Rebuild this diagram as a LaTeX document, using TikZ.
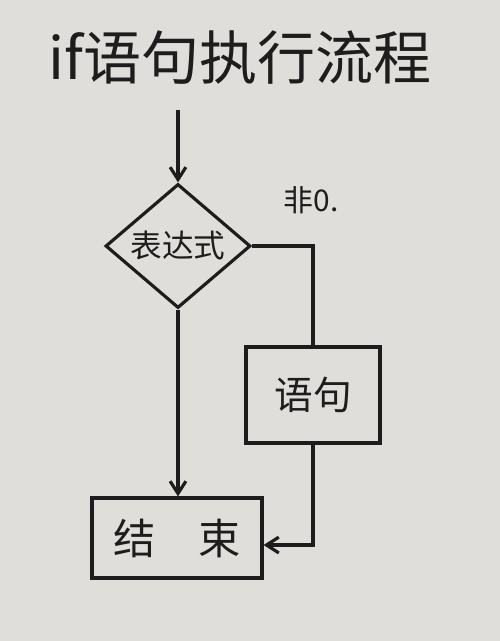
\documentclass[tikz,border=0pt]{standalone}
\usepackage{fontspec}
\newfontfamily\cjk{Noto Sans CJK SC}
\usepackage{tikz}
\usetikzlibrary{shapes.geometric,arrows.meta,positioning,calc}
\definecolor{paper}{RGB}{224,222,218}
\definecolor{ink}{RGB}{30,28,28}

\begin{document}
\begin{tikzpicture}[
			line width = 1.8pt,
			color = ink,
			>={Straight Barb[length=7pt,width=9pt]},
			every node/.style = {font=\cjk},
			block/.style = {draw, rectangle, inner sep=0pt},
			test/.style = {draw, diamond, inner sep=0pt, minimum width=2.9cm, minimum height=2.32cm}
			]

			\useasboundingbox[fill=paper] (0,0) rectangle (10,-12.82);

			% title
			\node (title) at (4.8,-1.15) {\fontsize{33}{40}\selectfont if语句执行流程};

			% flow
			\node[test] (expr) at (3.56,-4.92) {\fontsize{18}{22}\selectfont 表达式};
			\coordinate (entry) at ($(expr.north)+(0,1.45)$);
			\node[block, minimum width=2.68cm, minimum height=1.92cm] (stmt) at (6.26,-7.9) {\fontsize{22}{26}\selectfont 语句};
			\node[block, minimum width=3.4cm, minimum height=1.6cm] (finish) at (3.54,-10.76) {\fontsize{24}{28}\selectfont 结\quad 束};
			\coordinate (turn) at (expr.east -| stmt.north);
			\node (nonzero) at (6.22,-4.0) {\fontsize{17}{20}\selectfont 非0.};

			\draw[->] (entry) -- (expr.north);
			\draw (expr.east) -- (turn) -- (stmt.north);
			\draw[->] (expr.south) -- (expr.south |- finish.north);
			\draw[->] (stmt.south) |- ([yshift=-4pt]finish.east);

		\end{tikzpicture}
\end{document}
